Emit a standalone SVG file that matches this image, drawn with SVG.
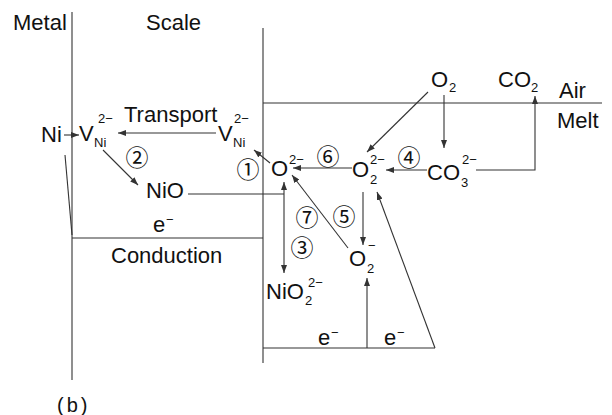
<svg xmlns="http://www.w3.org/2000/svg" width="612" height="415" viewBox="0 0 612 415">
<style>
text{font-family:"Liberation Sans",Arial,sans-serif;fill:#111;}
.t{font-size:22px;}
.s{font-size:13px;}
.c{font-family:"Noto Sans CJK JP","DejaVu Sans",sans-serif;font-size:23px;text-anchor:middle;}
.ln{stroke:#333;stroke-width:1.1;fill:none;}
.ar{stroke:#333;stroke-width:1.1;fill:none;marker-end:url(#ah);}
</style>
<defs>
<marker id="ah" markerUnits="userSpaceOnUse" markerWidth="8" markerHeight="6" refX="8" refY="3" orient="auto-start-reverse">
<path d="M0,0 L8,3 L0,6 z" fill="#333"/>
</marker>
</defs>
<g id="frame">
<line class="ln" x1="72" y1="12" x2="72" y2="380"/>
<line class="ln" x1="263" y1="28" x2="263" y2="363"/>
<line class="ln" x1="263" y1="103" x2="602" y2="103"/>
<line class="ln" x1="72" y1="238" x2="263" y2="238"/>
<line class="ln" x1="263" y1="348" x2="435" y2="348"/>
<line class="ln" x1="65" y1="155" x2="72" y2="235"/>
</g>
<g id="labels">
<text class="t" x="13" y="30">Metal</text>
<text class="t" x="146" y="30">Scale</text>
<text class="t" x="559" y="98">Air</text>
<text class="t" x="557" y="128">Melt</text>
<text class="t" x="124" y="122">Transport</text>
<text class="t" x="111" y="263">Conduction</text>
<text class="t" x="57" y="412" style="font-size:20px;letter-spacing:3px">(b)</text>
</g>
<g id="n-ni"><text class="t" x="41" y="142">Ni</text></g>
<g id="n-vni-left"><text class="t" x="79" y="141">V</text><text class="s" x="94" y="147">Ni</text><text class="s" x="98" y="123">2−</text></g>
<g id="n-vni-right"><text class="t" x="218" y="141">V</text><text class="s" x="233" y="147">Ni</text><text class="s" x="234" y="123">2−</text></g>
<g id="n-nio"><text class="t" x="146" y="198">NiO</text></g>
<g id="n-e1"><text class="t" x="153" y="232">e</text><text class="s" x="166" y="224">−</text></g>
<g id="n-o2m"><text class="t" x="271" y="176">O</text><text class="s" x="289" y="164">2−</text></g>
<g id="n-o22m"><text class="t" x="352" y="177">O</text><text class="s" x="370" y="184">2</text><text class="s" x="370" y="164">2−</text></g>
<g id="n-co32m"><text class="t" x="427" y="180">CO</text><text class="s" x="461" y="187">3</text><text class="s" x="462" y="164">2−</text></g>
<g id="n-o2"><text class="t" x="431" y="87">O</text><text class="s" x="449" y="92">2</text></g>
<g id="n-co2"><text class="t" x="498" y="87">CO</text><text class="s" x="531" y="92">2</text></g>
<g id="n-o2minus"><text class="t" x="349" y="266">O</text><text class="s" x="367" y="273">2</text><text class="s" x="368" y="250">−</text></g>
<g id="n-nio22m"><text class="t" x="266" y="299">NiO</text><text class="s" x="305" y="305">2</text><text class="s" x="308" y="287">2−</text></g>
<g id="n-e2"><text class="t" x="318" y="345">e</text><text class="s" x="331" y="337">−</text></g>
<g id="n-e3"><text class="t" x="384" y="345">e</text><text class="s" x="397" y="337">−</text></g>
<g id="steps">
<text class="c" x="248" y="178">①</text>
<text class="c" x="137" y="166">②</text>
<text class="c" x="302" y="256">③</text>
<text class="c" x="409" y="166">④</text>
<text class="c" x="344" y="225">⑤</text>
<text class="c" x="328" y="165">⑥</text>
<text class="c" x="307" y="226">⑦</text>
</g>
<g id="connectors">
<line class="ar" x1="64" y1="135" x2="79" y2="135"/>
<line class="ar" x1="216" y1="133" x2="118" y2="133"/>
<line class="ar" x1="103" y1="150" x2="138" y2="185"/>
<line class="ar" x1="270" y1="163" x2="254" y2="150"/>
<line class="ar" x1="352" y1="168" x2="293" y2="168"/>
<line class="ar" x1="427" y1="170" x2="386" y2="170"/>
<line class="ar" x1="428" y1="92" x2="367" y2="152"/>
<line class="ar" x1="444" y1="95" x2="444" y2="148"/>
<polyline class="ar" points="476,170 535,170 535,96"/>
<line class="ar" x1="363" y1="192" x2="363" y2="245"/>
<line class="ar" x1="348" y1="248" x2="292" y2="175"/>
<line class="ar" x1="284" y1="273" x2="284" y2="182" style="marker-start:url(#ah)"/>
<line class="ln" x1="188" y1="194" x2="284" y2="194"/>
<line class="ar" x1="367" y1="348" x2="367" y2="278"/>
<line class="ar" x1="435" y1="348" x2="377" y2="192"/>
</g>
</svg>
